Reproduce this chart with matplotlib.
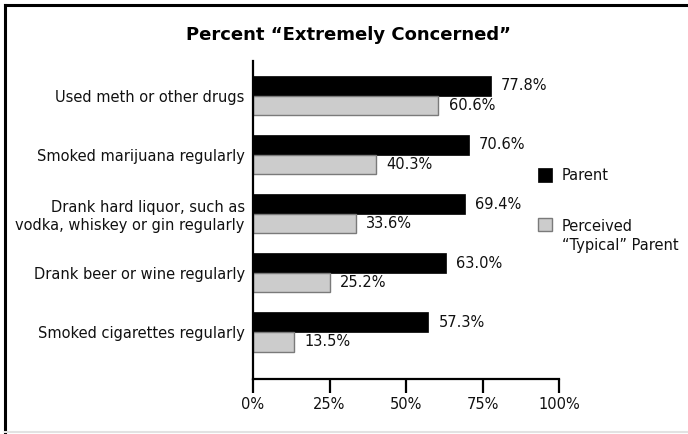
import numpy as np
import matplotlib.pyplot as plt
from matplotlib.patches import Rectangle
from matplotlib.lines import Line2D

# values
categories = [
    "Used meth or other drugs",
    "Smoked marijuana regularly",
    "Drank hard liquor, such as\nvodka, whiskey or gin regularly",
    "Drank beer or wine regularly",
    "Smoked cigarettes regularly",
]
parent = [77.8, 70.6, 69.4, 63.0, 57.3]
typical = [60.6, 40.3, 33.6, 25.2, 13.5]
xticks = [0, 25, 50, 75, 100]
xtick_labels = ["0%", "25%", "50%", "75%", "100%"]
series_names = ["Parent", "Perceived\n\u201cTypical\u201d Parent"]

W, H = 688, 434
fig = plt.figure(figsize=(W / 100, H / 100), dpi=100)
fig.patch.set_facecolor("white")

ax = fig.add_axes([253 / W, 1 - 379 / H, 306 / W, 318 / H])

y = np.arange(len(categories))
h = 0.33
ax.barh(y - h / 2, parent, height=h, color="black", edgecolor="black", linewidth=0.5)
ax.barh(y + h / 2, typical, height=h, color="#cccccc", edgecolor="#7a7a7a", linewidth=1.0)

for yi, v in zip(y, parent):
    ax.text(v + 3.3, yi - h / 2, f"{v:.1f}%", va="center", ha="left", fontsize=10.5, color="#111111")
for yi, v in zip(y, typical):
    ax.text(v + 3.3, yi + h / 2, f"{v:.1f}%", va="center", ha="left", fontsize=10.5, color="#111111")

ax.set_xlim(0, 100)
ax.set_ylim(4.795, -0.584)
ax.set_yticks(y)
ax.set_yticklabels(categories, fontsize=10.5, color="#111111")
ax.tick_params(axis="y", length=0, pad=6)
ax.set_xticks(xticks)
ax.set_xticklabels(xtick_labels, fontsize=10.5, color="#111111")
ax.tick_params(axis="x", direction="out", length=10, width=1.6, pad=3)

for side in ["top", "right"]:
    ax.spines[side].set_visible(False)
for side in ["left", "bottom"]:
    ax.spines[side].set_linewidth(1.6)
    ax.spines[side].set_color("black")

# title
fig.text(348 / W, 1 - 34.5 / H, "Percent \u201cExtremely Concerned\u201d",
         ha="center", va="center", fontsize=13, fontweight="bold")

# legend drawn by hand so the grey box lines up with the first text line
fig.patches.append(Rectangle((538 / W, 1 - 182 / H), 14 / W, 14 / H,
                             transform=fig.transFigure, facecolor="black",
                             edgecolor="black", linewidth=0.5))
fig.patches.append(Rectangle((538 / W, 1 - 231 / H), 14 / W, 13 / H,
                             transform=fig.transFigure, facecolor="#cccccc",
                             edgecolor="#7a7a7a", linewidth=1.0))
fig.text(562 / W, 1 - 175 / H, series_names[0], ha="left", va="center", fontsize=10.5, color="#111111")
fig.text(562 / W, 1 - 236 / H, series_names[1], ha="left", va="center", fontsize=10.5,
         color="#111111", linespacing=1.35)

# outer frame
fig.add_artist(Line2D([5 / W, 5 / W], [1 - 5 / H, 1 - 432 / H], transform=fig.transFigure,
                      color="black", linewidth=2.2))
fig.add_artist(Line2D([5 / W, 1], [1 - 5 / H, 1 - 5 / H], transform=fig.transFigure,
                      color="black", linewidth=2.2))
fig.add_artist(Line2D([5 / W, 1], [1 - 432 / H, 1 - 432 / H], transform=fig.transFigure,
                      color="#e2e2e2", linewidth=1.5))

fig.savefig("out.png", dpi=100)
